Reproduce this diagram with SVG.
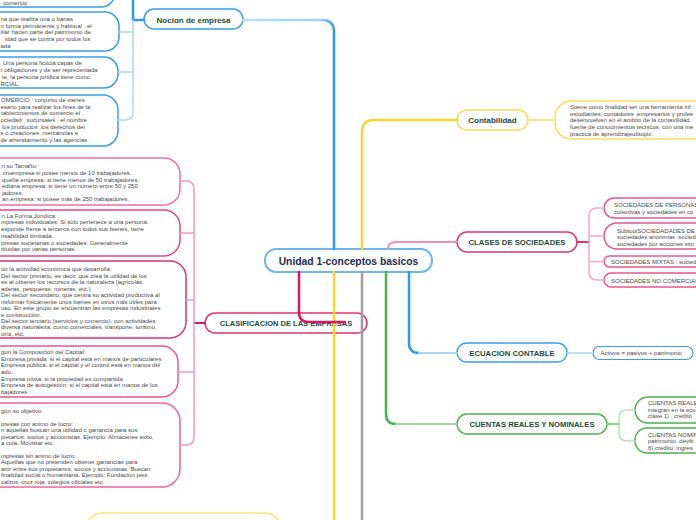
<svg xmlns="http://www.w3.org/2000/svg" width="696" height="520" viewBox="0 0 696 520">
<defs>
<style>
.t{font-family:"Liberation Sans",Arial,sans-serif;font-size:6px;fill:#474747}
.h{font-family:"Liberation Sans",Arial,sans-serif;font-weight:bold;fill:#1d4a3a;text-anchor:middle}
.nb{fill:#fff;stroke:#3a9ee4;stroke-width:1.5}
.np{fill:#fff;stroke:#e6578b;stroke-width:1.5}
.ny{fill:#fff;stroke:#f7dc5c;stroke-width:1.5}
.ng{fill:#fff;stroke:#4caf50;stroke-width:1.5}
.c{fill:none;stroke-linecap:round}
</style>
<linearGradient id="gBlueTop" gradientUnits="userSpaceOnUse" x1="243" y1="0" x2="334" y2="0">
<stop offset="0" stop-color="#b7def8"/><stop offset="0.85" stop-color="#9fd0f4"/><stop offset="1" stop-color="#2e9be6"/>
</linearGradient>
</defs>
<rect width="696" height="520" fill="#fff"/>

<g id="central">
<rect x="265" y="249" width="167" height="23" rx="11" fill="#fff" stroke="#6fb6ea" stroke-width="2"/>
<text class="h" x="348.5" y="264.5" font-size="10.3" style="fill:#1b2d55">Unidad 1-conceptos basicos</text>
</g>

<g id="nocion">
<rect class="nb" x="144" y="9" width="99" height="20" rx="10"/>
<text class="h" x="193.5" y="22.5" font-size="8">Nocion de empresa</text>
</g>
<g id="nocion-0">
<rect class="nb" x="-40" y="-40" width="155" height="47" rx="14"/>
<text class="t" x="3" y="5">comercio</text>
</g>
<g id="nocion-1">
<rect class="nb" x="-40" y="12" width="159" height="39" rx="14"/>
<text class="t" x="0.5" y="21">na que realiza una o barias</text>
<text class="t" x="0.5" y="27.7">n forma permanente y habitual . el</text>
<text class="t" x="0.5" y="34.3">iliar hacen parte del patrimonio de</text>
<text class="t" x="5" y="41">idad que se contra por todos los</text>
<text class="t" x="0.5" y="47.5">ada</text>
</g>
<g id="nocion-2">
<rect class="nb" x="-40" y="57" width="158" height="31" rx="14"/>
<text class="t" x="3" y="65">Una persona ficticia capas de</text>
<text class="t" x="0.5" y="72">r obligaciones y de ser reprecentada</text>
<text class="t" x="2" y="79">te, la persona juridica tiene como</text>
<text class="t" x="0.5" y="85.5">RCIAL.</text>
</g>
<g id="nocion-3">
<rect class="nb" x="-40" y="95" width="158" height="51" rx="15"/>
<text class="t" x="1" y="102">OMERCIO : conjunto de vienes</text>
<text class="t" x="0.5" y="108.7">esario para realizar los fines de la</text>
<text class="t" x="1" y="115.3">tablecimientos de comercio el</text>
<text class="t" x="0.5" y="122">ociedad , sucursales , el nombre</text>
<text class="t" x="2" y="128.7">los productos ,los derechos del</text>
<text class="t" x="0.5" y="135.3">s o creaciones ,mercancias e</text>
<text class="t" x="0.5" y="142">de arrendamiento y las agencias .</text>
</g>

<g id="clasificacion">
<rect x="205" y="313" width="162" height="20" rx="10" fill="#fff" stroke="#e0336f" stroke-width="1.5"/>
<text class="h" x="286" y="325.8" font-size="7.5">CLASIFICACION DE LAS EMPRESAS</text>
</g>
<g id="clas-1">
<rect x="-40" y="158" width="220" height="47" rx="16" fill="#fff" stroke="#ec6f9b" stroke-width="1.5"/>
<text class="t" x="1.5" y="168">n su Tamaño:</text>
<text class="t" x="2.7" y="175">croempresa si posee menos de 10 trabajadores.</text>
<text class="t" x="2" y="181.7">queña empresa: si tiene menos de 50 trabajadores.</text>
<text class="t" x="2" y="188.3">ediana empresa: si tiene un número entre 50 y 250</text>
<text class="t" x="2" y="194.8">jadores.</text>
<text class="t" x="2" y="201">an empresa: si posee más de 250 trabajadores.</text>
</g>
<g id="clas-2">
<rect x="-40" y="210" width="220" height="46" rx="16" fill="#fff" stroke="#e2467c" stroke-width="1.5"/>
<text class="t" x="1.5" y="217.7">n La Forma Jurídica:</text>
<text class="t" x="1" y="224.4">mpresas individuales: Si solo pertenece a una persona.</text>
<text class="t" x="1" y="231.1">esponde frente a terceros con todos sus bienes, tiene</text>
<text class="t" x="1" y="237.8">nsabilidad ilimitada.</text>
<text class="t" x="1" y="244.5">presas societarias o sociedades: Generalmente</text>
<text class="t" x="1" y="251.2">tituidas por varias personas.</text>
</g>
<g id="clas-3">
<rect x="-40" y="261" width="226" height="77" rx="16" fill="#fff" stroke="#d9336e" stroke-width="1.5"/>
<text class="t" x="1" y="271.3">ún la actividad económica que desarrolla:</text>
<text class="t" x="1" y="277.8">Del sector primario, es decir, que crea la utilidad de los</text>
<text class="t" x="1" y="284.2">es al obtener los recursos de la naturaleza (agrícolas,</text>
<text class="t" x="1" y="290.7">aderas, pesqueras, mineras, etc.).</text>
<text class="t" x="1" y="297.1">Del sector secundario, que centra su actividad productiva al</text>
<text class="t" x="1" y="303.6">nsformar físicamente unos bienes en otros más útiles para</text>
<text class="t" x="1" y="310">uso. En este grupo se encuentran las empresas industriales</text>
<text class="t" x="1" y="316.5">e construcción.</text>
<text class="t" x="1" y="322.9">Del sector terciario (servicios y comercio), con actividades</text>
<text class="t" x="1" y="329.4">diversa naturaleza, como comerciales, transporte, turismo,</text>
<text class="t" x="1" y="335.8">oría, etc.</text>
</g>
<g id="clas-4">
<rect x="-40" y="346" width="218" height="51" rx="16" fill="#fff" stroke="#e6578b" stroke-width="1.5"/>
<text class="t" x="1" y="354.3">gún la Composición del Capital:</text>
<text class="t" x="1" y="360.9">Empresa privada: si el capital está en manos de particulares</text>
<text class="t" x="1" y="367.4">Empresa pública: si el capital y el control está en manos del</text>
<text class="t" x="1" y="374">ado.</text>
<text class="t" x="1" y="380.5">Empresa mixta: si la propiedad es compartida</text>
<text class="t" x="1" y="387.1">Empresa de autogestión: si el capital está en manos de los</text>
<text class="t" x="1" y="393.6">bajadores</text>
</g>
<g id="clas-5">
<rect x="-40" y="403" width="220" height="84" rx="18" fill="#fff" stroke="#e9659a" stroke-width="1.5"/>
<text class="t" x="1" y="412.7">gún su objetivo</text>
<text class="t" x="1" y="425.6">presas con animo de lucro:</text>
<text class="t" x="1" y="432">n aquellas buscan una utilidad o ganancia para sus</text>
<text class="t" x="1" y="438.5">pietarios, socios y accionistas. Ejemplo: Almacenes éxito,</text>
<text class="t" x="1" y="445">a cola, Movistar etc.</text>
<text class="t" x="1" y="457.9">mpresas sin animo de lucro:</text>
<text class="t" x="1" y="464.4">Aquellas que no pretenden obtener ganancias para</text>
<text class="t" x="1" y="470.8">artir entre sus propietarios, socios y accionistas. Buscan</text>
<text class="t" x="1" y="477.3">finalidad social o humanitaria. Ejemplo:  Fundación pies</text>
<text class="t" x="1" y="483.7">calzos, cruz roja, colegios oficiales etc.</text>
</g>

<g id="contabilidad">
<rect class="ny" x="457" y="110" width="71" height="20" rx="10"/>
<text class="h" x="492.5" y="123" font-size="8">Contabilidad</text>
</g>
<g id="contabilidad-1">
<rect class="ny" x="555" y="101" width="200" height="38" rx="16"/>
<text class="t" x="570" y="109">Stiene como finalidad ser una herramienta inf</text>
<text class="t" x="570" y="115.7">estudiantes, contadores ,empresarios y profes</text>
<text class="t" x="570" y="122.4">desenvuelven en el ambito de la contavilidad.</text>
<text class="t" x="570" y="129.1">fuente de conocimientos tecnicos, con una me</text>
<text class="t" x="570" y="135.8">practica de aprendizajeubtopic</text>
</g>

<g id="clases">
<rect x="457" y="232" width="120" height="20" rx="10" fill="#fff" stroke="#e0336f" stroke-width="1.5"/>
<text class="h" x="517" y="245" font-size="7.7">CLASES DE SOCIEDADES</text>
</g>
<g id="clases-1">
<rect class="np" x="604" y="198" width="150" height="20" rx="10"/>
<text class="t" x="614" y="207.3">SOCIEDADES DE PERSONAS :</text>
<text class="t" x="614" y="214">colectivas y sociedades en co</text>
</g>
<g id="clases-2">
<rect class="np" x="604" y="223" width="150" height="26" rx="13"/>
<text class="t" x="617" y="232.5">SubtopiSOCIEDADADES DE CA</text>
<text class="t" x="617" y="239">sociedades anonimas ,socied</text>
<text class="t" x="617" y="245.5">sociedades por acciones sim</text>
</g>
<g id="clases-3">
<rect class="np" x="604" y="256" width="150" height="11" rx="5.5"/>
<text class="t" x="611" y="263.5">SOCIEDADES MIXTAS : sociedad</text>
</g>
<g id="clases-4">
<rect class="np" x="604" y="273" width="150" height="14" rx="7"/>
<text class="t" x="611" y="282.7">SOCIEDADES NO COMERCIALE</text>
</g>

<g id="ecuacion">
<rect class="nb" x="457" y="343" width="110" height="19" rx="9.5"/>
<text class="h" x="512" y="355.5" font-size="7.7">ECUACION CONTABLE</text>
</g>
<g id="ecuacion-1">
<rect x="593" y="346.5" width="100" height="13" rx="6.5" fill="#fff" stroke="#3a9ee4" stroke-width="1.2"/>
<text class="t" x="600.5" y="355.3">Activos = pasivos + patrimonio</text>
</g>

<g id="cuentas">
<rect class="ng" x="457" y="414" width="150" height="20" rx="10"/>
<text class="h" x="532" y="427" font-size="7.7">CUENTAS REALES Y NOMINALES</text>
</g>
<g id="cuentas-1">
<rect class="ng" x="635" y="397" width="100" height="26" rx="13"/>
<text class="t" x="648" y="405.3">CUENTAS REALES</text>
<text class="t" x="648" y="412">integran en la ecu</text>
<text class="t" x="648" y="418.3">clase 1) , credito</text>
</g>
<g id="cuentas-2">
<rect class="ng" x="635" y="428" width="100" height="25" rx="12"/>
<text class="t" x="648" y="436.5">CUENTAS NOMINA</text>
<text class="t" x="648" y="443">patrimonio ,devib</text>
<text class="t" x="648" y="449.7">6),credito: ingres</text>
</g>

<g id="bottom-node">
<rect x="85" y="513" width="197" height="40" rx="18" fill="#fff" stroke="#f9e27a" stroke-width="1.5"/>
</g>

<g id="connectors" class="c">
<!-- to Nocion de empresa -->
<path d="M243,20 L322,20 Q334,20 334,32 L334,249" stroke="url(#gBlueTop)" stroke-width="2.5" fill="none"/>
<path d="M144,20 L133,20" stroke="#2e9be6" stroke-width="2.5"/>
<path d="M133,-5 L133,20" stroke="#2e9be6" stroke-width="2.5"/>
<path d="M133,20 L133,112 Q133,120 125,120 L118,120" stroke="#a9d6f5" stroke-width="1.5" fill="none"/>
<path d="M133,32 L119,32 M133,72 L118,72" stroke="#a9d6f5" stroke-width="1.5"/>
<!-- to Contabilidad -->
<path d="M362,249 L362,132 Q362,120 374,120 L457,120" stroke="#f6d530" stroke-width="2.5" fill="none"/>
<path d="M528,120 L555,120" stroke="#f9e27a" stroke-width="1.5"/>
<!-- downward lines -->
<path d="M334,272 L334,525" stroke="#f6d530" stroke-width="2.5"/>
<path d="M362,272 L362,525" stroke="#9e9e9e" stroke-width="2.5"/>
<!-- to Clases de sociedades -->
<path d="M388,249 Q388,242 396,242 L457,242" stroke="#f291b4" stroke-width="2" fill="none"/>
<path d="M577,242 L589,242" stroke="#e0336f" stroke-width="2"/>
<path d="M604,208 L597,208 Q589,208 589,216 L589,272 Q589,280 597,280 L604,280 M589,236 L604,236 M589,261.5 L604,261.5" stroke="#f6a9c3" stroke-width="1.5" fill="none"/>
<!-- to Clasificacion -->
<path d="M299,272 L299,312 Q299,322 309,322 L345,322" stroke="#d81b60" stroke-width="2.5" fill="none"/>
<path d="M205,323 L194,323" stroke="#d81b60" stroke-width="2"/>
<path d="M180,181 L186,181 Q194,181 194,189 L194,437 Q194,445 186,445 L180,445 M180,233 L194,233 M186,300 L194,300 M178,372 L194,372" stroke="#f29bbb" stroke-width="1.5" fill="none"/>
<!-- to Ecuacion -->
<path d="M409,272 L409,343 Q409,353 419,353" stroke="#2e9be6" stroke-width="2.5" fill="none"/>
<path d="M419,353 L457,353" stroke="#a9d6f5" stroke-width="2"/>
<path d="M567,353 L593,353" stroke="#a9d6f5" stroke-width="1.5"/>
<!-- to Cuentas -->
<path d="M386,272 L386,414 Q386,424 396,424" stroke="#4caf50" stroke-width="2.5" fill="none"/>
<path d="M396,424 L457,424" stroke="#a5d6a7" stroke-width="2"/>
<path d="M607,424 L619,424" stroke="#8fcf91" stroke-width="2"/>
<path d="M635,410 L627,410 Q619,410 619,418 L619,433 Q619,441 627,441 L635,441" stroke="#b9e0ba" stroke-width="1.5" fill="none"/>
</g>
</svg>
